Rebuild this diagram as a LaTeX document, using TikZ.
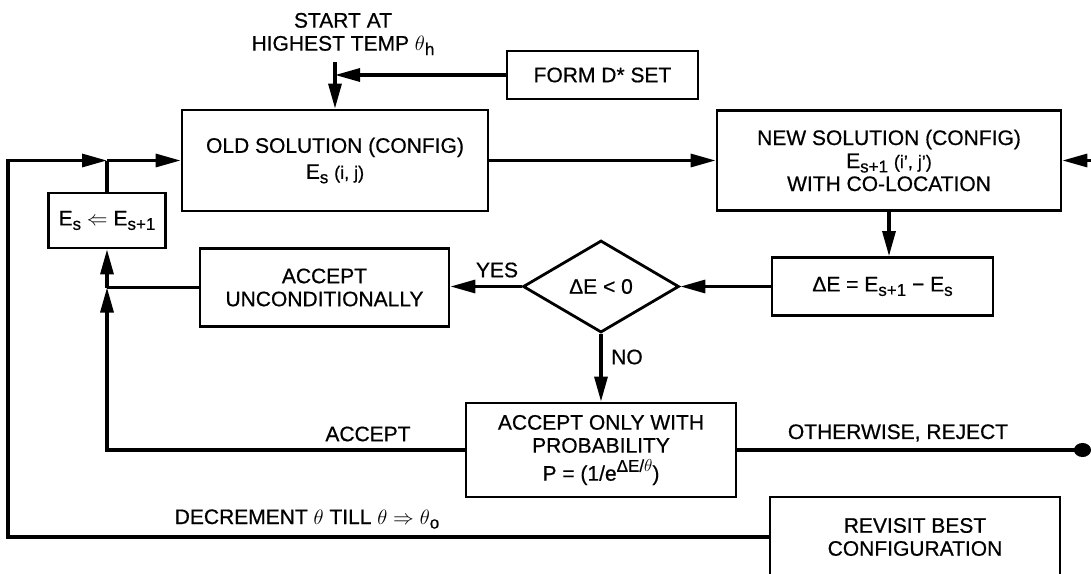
\documentclass[tikz,border=0pt]{standalone}
\usepackage{fontspec}
\setmainfont{Liberation Sans}[FakeBold=0.6]
\usetikzlibrary{arrows.meta,shapes.geometric}
\newcommand\sbs[1]{\raisebox{-0.4ex}{\fontsize{17}{17}\selectfont #1}}
\newcommand\sps[1]{\raisebox{0.8ex}{\fontsize{17}{17}\selectfont #1}}
\newcommand\smtxt[1]{{\fontsize{18}{18}\selectfont #1}}
\begin{document}
\begin{tikzpicture}[x=1pt,y=-1pt,
  font=\fontsize{21}{23}\selectfont,
  box/.style={draw, line width=2.8pt, align=center, inner sep=0pt},
  conn/.style={line width=3.2pt},
  arr/.style={conn, -{Triangle[length=25pt,width=13pt]}},
  lbl/.style={inner sep=0pt, align=center}]
\useasboundingbox (0,0) rectangle (1091,573);
\fill[white] (0,0) rectangle (1091,573);

% boxes
\node[box, minimum width=191pt, minimum height=48pt] (formd) at (602.5,75) {FORM D* SET};
\node[box, minimum width=306pt, minimum height=101pt] (old) at (335,160.5) {OLD SOLUTION (CONFIG)\\[3pt] E\sbs{s} \smtxt{(i, j)}};
\node[box, minimum width=344pt, minimum height=100pt] (new) at (889,160.5) {NEW SOLUTION (CONFIG)\\ E\sbs{s+1} \smtxt{(i’, j’)}\\ WITH CO-LOCATION};
\node[box, minimum width=221pt, minimum height=58pt] (de) at (882.5,286.5) {ΔE = E\sbs{s+1} − E\sbs{s}};
\node[draw, diamond, line width=2.8pt, minimum width=156pt, minimum height=92pt, inner sep=0pt] (dia) at (601,286.5) {ΔE < 0};
\node[box, minimum width=249pt, minimum height=78pt] (accu) at (324.5,287.5) {ACCEPT\\UNCONDITIONALLY};
\node[box, minimum width=117pt, minimum height=55pt] (es) at (107,220.5) {E\sbs{s} $\Leftarrow$ E\sbs{s+1}};
\node[box, minimum width=270pt, minimum height=94pt] (accp) at (601,450) {ACCEPT ONLY WITH\\PROBABILITY\\[5pt]P = (1/e\sps{ΔE/$\theta$})};
\node[box, minimum width=290pt, minimum height=80pt] (rev) at (915,537) {REVISIT BEST\\CONFIGURATION};

% labels
\node[lbl] (start) at (343,34) {START AT\\HIGHEST TEMP $\theta$\sbs{h}};
\node[lbl] (yes) at (497,270) {YES};
\node[lbl] (no) at (627,357) {NO};
\node[lbl] (acc) at (368,434) {ACCEPT};
\node[lbl] (oth) at (898,433) {OTHERWISE, REJECT};
\node[lbl] (dec) at (307,519) {DECREMENT $\theta$ TILL $\theta$ $\Rightarrow$ $\theta$\sbs{o}};

% coordinates
\coordinate (st) at (335,62);
\coordinate (j1) at (es.north |- old.west);
\coordinate (j2) at (accu.west -| es.south);
\coordinate (c1) at (8,160.5);
\coordinate (c2) at (8,537);
\coordinate (rin) at (1095,160.5);
\coordinate (rej) at (1091,450);

% connectors
\draw[arr] (st) -- (old.north);
\draw[arr] (formd.west) -- (formd.west -| st);
\draw[arr] (old.east) -- (old.east -| new.west);
\draw[arr] (rin) -- (new.east);
\draw[arr] (new.south) -- (new.south |- de.north);
\draw[arr] (de.west) -- (de.west -| dia.east);
\draw[arr] (dia.west) -- (dia.west -| accu.east);
\draw[arr] (dia.south) -- (accp.north);
\draw[conn] (accu.west) -- (j2);
\draw[arr] (j2) -- (es.south);
\draw[arr] (accp.west) -- (accp.west -| j2) -- (j2);
\draw[conn, -{Circle[length=17pt,width=14pt]}] (accp.east) -- (rej);
\draw[conn] (es.north) -- (j1);
\draw[arr] (rev.west) -- (c2) -- (c1) -- (j1);
\draw[arr] (j1) -- (old.west);
\end{tikzpicture}
\end{document}
